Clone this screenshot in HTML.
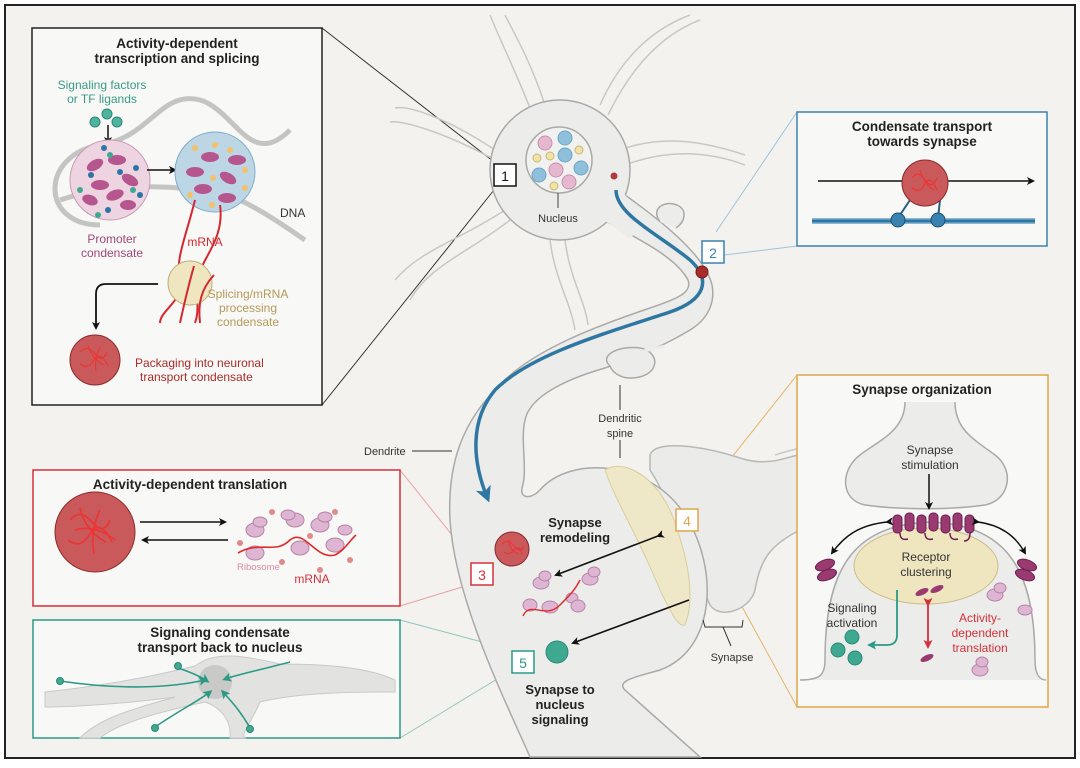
<!DOCTYPE html>
<html><head><meta charset="utf-8"><style>
html,body{margin:0;padding:0;background:#fff}
svg{display:block}
text{font-family:"Liberation Sans",sans-serif}
</style></head><body>
<svg width="1080" height="768" viewBox="0 0 1080 768" xmlns="http://www.w3.org/2000/svg">
<defs>
<marker id="ak" markerWidth="8" markerHeight="8" refX="6" refY="4" orient="auto" markerUnits="userSpaceOnUse"><path d="M0,0 L8,4 L0,8 L2,4 Z" fill="#111"/></marker>
<marker id="ab" markerWidth="16" markerHeight="16" refX="10" refY="8" orient="auto" markerUnits="userSpaceOnUse"><path d="M0,0 L16,8 L0,16 L4,8 Z" fill="#2f77a3"/></marker>
<marker id="ar" markerWidth="9" markerHeight="9" refX="6" refY="4.5" orient="auto" markerUnits="userSpaceOnUse"><path d="M0,0 L9,4.5 L0,9 L2,4.5 Z" fill="#d6303a"/></marker>
<marker id="at" markerWidth="9" markerHeight="9" refX="6" refY="4.5" orient="auto" markerUnits="userSpaceOnUse"><path d="M0,0 L9,4.5 L0,9 L2,4.5 Z" fill="#2a9a85"/></marker>
</defs>
<rect x="0" y="0" width="1080" height="768" fill="#fff"/>
<rect x="5" y="5" width="1070" height="753" fill="#f3f2ef" stroke="#222" stroke-width="2"/>

<!-- callout lines -->
<line x1="322" y1="28" x2="498" y2="165" stroke="#333" stroke-width="1"/>
<line x1="322" y1="405" x2="498" y2="185" stroke="#333" stroke-width="1"/>
<line x1="716" y1="232" x2="797" y2="112" stroke="#9cc3dc" stroke-width="1"/>
<line x1="716" y1="256" x2="797" y2="246" stroke="#9cc3dc" stroke-width="1"/>
<line x1="400" y1="470" x2="472" y2="560" stroke="#eaa0a0" stroke-width="1"/>
<line x1="400" y1="606" x2="472" y2="584" stroke="#eaa0a0" stroke-width="1"/>
<line x1="400" y1="620" x2="512" y2="650" stroke="#8fc7bd" stroke-width="1"/>
<line x1="400" y1="738" x2="512" y2="670" stroke="#8fc7bd" stroke-width="1"/>
<line x1="690" y1="510" x2="797" y2="375" stroke="#e6b46a" stroke-width="1"/>
<line x1="700" y1="530" x2="797" y2="707" stroke="#e6b46a" stroke-width="1"/>

<!-- neuron branches -->
<g fill="none" stroke="#c8c8c6" stroke-width="1.5">
<path d="M530,108 C515,70 500,40 490,15"/><path d="M545,105 C530,60 515,35 505,15"/>
<path d="M600,105 C620,60 650,30 690,15"/><path d="M608,115 C630,70 660,35 700,20"/>
<path d="M495,150 C450,120 410,105 395,108"/><path d="M495,160 C440,130 400,120 390,122"/>
<path d="M620,150 C660,135 700,140 745,155"/><path d="M625,165 C665,150 705,150 745,165"/>
<path d="M505,210 C460,240 420,250 395,280"/><path d="M510,220 C465,255 430,265 410,300"/>
<path d="M550,240 C555,280 570,300 575,330"/><path d="M565,240 C570,280 585,300 588,325"/>
<path d="M775,455 C820,440 850,445 870,430"/><path d="M770,470 C820,465 850,470 875,460"/>
</g>

<!-- presynaptic bouton -->
<path d="M650,455 C655,440 700,445 740,458 C770,468 790,455 800,455 L800,530 C770,545 760,560 755,590 C750,610 720,620 710,605 C690,560 670,500 650,470 Z" fill="#ebebea" stroke="#b8b8b6" stroke-width="1.5"/>

<!-- dendrite trunk -->
<path d="M600,218 C630,235 675,255 688,280 C692,292 680,298 650,308 C600,325 530,350 497,388 C465,420 447,460 450,520 C455,600 505,700 530,757 L700,757 L625,690 C615,680 640,676 660,670 C715,650 720,570 685,515 C650,460 570,455 540,490 C530,500 520,498 522,488 C528,470 520,440 525,420 C530,395 570,378 605,368 C640,356 665,345 690,330 C710,318 715,300 712,285 C705,255 660,220 625,195 Z" fill="#ececeb" stroke="#a9a9a7" stroke-width="1.5"/>
<!-- spine bumps -->
<path d="M660,222 C650,208 665,200 677,205 C688,210 685,222 676,228" fill="#ececeb" stroke="#a9a9a7" stroke-width="1.5"/>
<path d="M610,366 C598,355 620,345 640,348 C662,352 660,378 630,378 C620,378 612,372 610,366 Z" fill="#ececeb" stroke="#a9a9a7" stroke-width="1.5"/>
<path d="M612,364 C625,352 655,350 664,346" fill="none" stroke="#ececeb" stroke-width="3"/>
<!-- soma -->
<circle cx="560" cy="170" r="70" fill="#ececeb" stroke="#a9a9a7" stroke-width="1.5"/>
<path d="M595,214 L630,238 L650,220 L620,190 Z" fill="#ececeb"/>
<circle cx="559" cy="160" r="33" fill="#f1f1f0" stroke="#a9a9a7" stroke-width="1.5"/>
<circle cx="545" cy="143" r="7" fill="#e6b8d0" stroke="#c88fae"/><circle cx="565" cy="138" r="7" fill="#8fc0db" stroke="#6ea5c6"/>
<circle cx="537" cy="158" r="4" fill="#f0e2a8" stroke="#c9b872"/><circle cx="550" cy="156" r="4" fill="#f0e2a8" stroke="#c9b872"/>
<circle cx="565" cy="155" r="7" fill="#8fc0db" stroke="#6ea5c6"/><circle cx="579" cy="150" r="4" fill="#f0e2a8" stroke="#c9b872"/>
<circle cx="539" cy="175" r="7" fill="#8fc0db" stroke="#6ea5c6"/><circle cx="556" cy="170" r="7" fill="#e6b8d0" stroke="#c88fae"/>
<circle cx="581" cy="168" r="7" fill="#8fc0db" stroke="#6ea5c6"/><circle cx="569" cy="182" r="7" fill="#e6b8d0" stroke="#c88fae"/>
<circle cx="554" cy="186" r="4" fill="#f0e2a8" stroke="#c9b872"/>
<line x1="558" y1="193" x2="558" y2="208" stroke="#444"/>
<text x="558" y="222" font-size="11" text-anchor="middle" fill="#333">Nucleus</text>
<circle cx="614" cy="176" r="3.5" fill="#b03a3a"/>

<!-- spine head synapse area -->
<path d="M605,470 C620,460 650,470 670,510 C690,560 695,600 685,625 C678,628 670,610 660,590 C640,540 615,500 605,470 Z" fill="#efe8c8" stroke="#d8cd9a"/>

<!-- blue transport arrow -->
<path d="M616,190 C616,215 660,235 690,260 C712,280 705,300 670,312 C600,335 530,355 495,390 C470,420 472,460 487,497" fill="none" stroke="#2f77a3" stroke-width="3.5" marker-end="url(#ab)"/>
<circle cx="702" cy="272" r="6" fill="#a82c2c" stroke="#7a1a1a"/>

<!-- labels on neuron -->
<line x1="620" y1="385" x2="620" y2="410" stroke="#333"/><line x1="620" y1="440" x2="620" y2="458" stroke="#333"/>
<text x="620" y="422" font-size="11" text-anchor="middle" fill="#333">Dendritic</text>
<text x="620" y="437" font-size="11" text-anchor="middle" fill="#333">spine</text>
<text x="364" y="455" font-size="11" fill="#333">Dendrite</text>
<line x1="412" y1="451" x2="452" y2="451" stroke="#333"/>
<text x="575" y="527" font-size="13" font-weight="bold" text-anchor="middle" fill="#222">Synapse</text>
<text x="575" y="542" font-size="13" font-weight="bold" text-anchor="middle" fill="#222">remodeling</text>
<text x="560" y="694" font-size="13" font-weight="bold" text-anchor="middle" fill="#222">Synapse to</text>
<text x="560" y="709" font-size="13" font-weight="bold" text-anchor="middle" fill="#222">nucleus</text>
<text x="560" y="724" font-size="13" font-weight="bold" text-anchor="middle" fill="#222">signaling</text>
<path d="M703,620 L705,627 L742,627 L743,620 M723,627 L731,646" fill="none" stroke="#333"/>
<text x="732" y="661" font-size="11" text-anchor="middle" fill="#333">Synapse</text>
<!-- remodeling contents -->
<circle cx="512" cy="549" r="17" fill="#c9595a" stroke="#8a2a2a"/>
<path d="M502,544 q6,-6 12,2 t10,0 M504,552 q5,4 10,-2 t8,4 M508,540 q2,10 10,14" fill="none" stroke="#e33" stroke-width="1"/>
<line x1="658" y1="536" x2="556" y2="575" stroke="#111" stroke-width="1.6" marker-end="url(#ak)" marker-start="url(#ak)"/>
<line x1="689" y1="600" x2="573" y2="643" stroke="#111" stroke-width="1.6" marker-end="url(#ak)"/>
<g fill="#deb6d3" stroke="#b784a6"><ellipse cx="541" cy="583" rx="8" ry="6"/><ellipse cx="545" cy="576" rx="6" ry="5"/><ellipse cx="590" cy="579" rx="8" ry="6"/><ellipse cx="594" cy="572" rx="6" ry="5"/><ellipse cx="530" cy="605" rx="7" ry="6"/><ellipse cx="550" cy="607" rx="8" ry="6"/><ellipse cx="572" cy="598" rx="6" ry="5"/><ellipse cx="578" cy="606" rx="7" ry="6"/></g>
<path d="M523,616 C530,600 545,620 560,605 C570,595 575,590 580,580" fill="none" stroke="#e02b2b" stroke-width="1.4"/>
<circle cx="557" cy="652" r="11" fill="#3fa891" stroke="#2a8a76"/>

<!-- number tags -->
<rect x="494" y="164" width="22" height="22" fill="#fff" stroke="#111" stroke-width="1.5"/><text x="505" y="181" font-size="14" text-anchor="middle" fill="#111">1</text>
<rect x="702" y="241" width="22" height="22" fill="#fff" stroke="#3a82b0" stroke-width="1.5"/><text x="713" y="258" font-size="14" text-anchor="middle" fill="#3a82b0">2</text>
<rect x="471" y="563" width="22" height="22" fill="#fff" stroke="#d6303a" stroke-width="1.5"/><text x="482" y="580" font-size="14" text-anchor="middle" fill="#d6303a">3</text>
<rect x="676" y="509" width="22" height="22" fill="#fff" stroke="#e0a64b" stroke-width="1.5"/><text x="687" y="526" font-size="14" text-anchor="middle" fill="#e0a64b">4</text>
<rect x="512" y="651" width="22" height="22" fill="#fff" stroke="#2a9a85" stroke-width="1.5"/><text x="523" y="668" font-size="14" text-anchor="middle" fill="#2a9a85">5</text>

<!-- BOX 1 -->
<rect x="32" y="28" width="290" height="377" fill="#f8f8f6" stroke="#222" stroke-width="1.5"/>
<text x="177" y="48" font-size="13.5" font-weight="bold" text-anchor="middle" fill="#222">Activity-dependent</text>
<text x="177" y="63" font-size="13.5" font-weight="bold" text-anchor="middle" fill="#222">transcription and splicing</text>
<text x="102" y="89" font-size="12" text-anchor="middle" fill="#3a9a87">Signaling factors</text>
<text x="102" y="103" font-size="12" text-anchor="middle" fill="#3a9a87">or TF ligands</text>
<g fill="#4fb39f" stroke="#2a8a76"><circle cx="95" cy="122" r="5"/><circle cx="107" cy="114" r="5"/><circle cx="117" cy="122" r="5"/></g>
<line x1="108" y1="125" x2="108" y2="143" stroke="#111" stroke-width="1.5" marker-end="url(#ak)"/>
<path d="M100,225 C40,225 40,155 100,145 C150,138 160,90 200,100 C235,110 250,170 290,130 M60,200 C120,180 200,185 240,200 C270,215 290,230 305,240" fill="none" stroke="#c4c4c2" stroke-width="5"/>
<text x="280" y="217" font-size="12" fill="#333">DNA</text>
<circle cx="110" cy="180" r="40" fill="#eed3e0" stroke="#c89bb6"/>
<g fill="#b5568f"><ellipse cx="95" cy="165" rx="9" ry="5" transform="rotate(-30 95 165)"/><ellipse cx="117" cy="160" rx="9" ry="5"/><ellipse cx="130" cy="180" rx="9" ry="5" transform="rotate(30 130 180)"/><ellipse cx="100" cy="185" rx="9" ry="5"/><ellipse cx="115" cy="195" rx="9" ry="5" transform="rotate(-20 115 195)"/><ellipse cx="90" cy="200" rx="8" ry="5" transform="rotate(20 90 200)"/><ellipse cx="128" cy="205" rx="8" ry="5"/></g>
<g fill="#2b74a5"><circle cx="91" cy="175" r="3"/><circle cx="120" cy="172" r="3"/><circle cx="136" cy="168" r="3"/><circle cx="108" cy="210" r="3"/><circle cx="140" cy="195" r="3"/><circle cx="104" cy="148" r="3"/></g>
<g fill="#3fa891"><circle cx="110" cy="155" r="3"/><circle cx="80" cy="190" r="3"/><circle cx="133" cy="190" r="3"/><circle cx="98" cy="215" r="3"/></g>
<line x1="147" y1="170" x2="175" y2="170" stroke="#111" stroke-width="1.5" marker-end="url(#ak)"/>
<circle cx="215" cy="172" r="40" fill="#bcd6e6" stroke="#80acc8"/>
<g fill="#b5568f"><ellipse cx="210" cy="157" rx="9" ry="5"/><ellipse cx="237" cy="160" rx="9" ry="5"/><ellipse cx="195" cy="172" rx="9" ry="5"/><ellipse cx="228" cy="178" rx="9" ry="5" transform="rotate(30 228 178)"/><ellipse cx="203" cy="189" rx="9" ry="5"/><ellipse cx="227" cy="198" rx="9" ry="5"/></g>
<g fill="#f5c06a"><circle cx="195" cy="148" r="3"/><circle cx="215" cy="145" r="3"/><circle cx="230" cy="150" r="3"/><circle cx="245" cy="170" r="3"/><circle cx="213" cy="178" r="3"/><circle cx="190" cy="195" r="3"/><circle cx="212" cy="205" r="3"/><circle cx="245" cy="188" r="3"/></g>
<path d="M195,200 C185,240 175,260 180,280 C185,300 160,310 160,323 M220,205 C225,240 200,260 200,275 C195,300 200,310 195,323" fill="none" stroke="#d6262e" stroke-width="2"/>
<text x="205" y="246" font-size="12" text-anchor="middle" fill="#d6262e">mRNA</text>
<text x="112" y="243" font-size="12" text-anchor="middle" fill="#a0487a">Promoter</text>
<text x="112" y="257" font-size="12" text-anchor="middle" fill="#a0487a">condensate</text>
<circle cx="190" cy="283" r="22" fill="#efe6c0" stroke="#bfb07a"/>
<path d="M194,266 C190,280 185,300 180,323 M214,275 C200,290 198,305 200,323" fill="none" stroke="#d6262e" stroke-width="2"/>
<text x="248" y="298" font-size="12" text-anchor="middle" fill="#b59a5a">Splicing/mRNA</text>
<text x="248" y="312" font-size="12" text-anchor="middle" fill="#b59a5a">processing</text>
<text x="248" y="326" font-size="12" text-anchor="middle" fill="#b59a5a">condensate</text>
<path d="M158,284 L106,284 Q96,284 96,294 L96,328" fill="none" stroke="#111" stroke-width="1.8" marker-end="url(#ak)"/>
<circle cx="95" cy="360" r="25" fill="#c9595a" stroke="#8a2a2a"/>
<path d="M80,352 q8,-8 15,2 t12,-2 M80,364 q8,6 14,-4 t14,6 M88,345 q4,14 16,20 M100,347 q-6,12 -4,24" fill="none" stroke="#e33" stroke-width="1.1"/>
<text x="135" y="367" font-size="12" fill="#a82c2c">Packaging into neuronal</text>
<text x="140" y="381" font-size="12" fill="#a82c2c">transport condensate</text>

<!-- BOX 2 -->
<rect x="797" y="112" width="250" height="134" fill="#f8f8f6" stroke="#3a82b0" stroke-width="1.5"/>
<text x="922" y="131" font-size="13.5" font-weight="bold" text-anchor="middle" fill="#222">Condensate transport</text>
<text x="922" y="146" font-size="13.5" font-weight="bold" text-anchor="middle" fill="#222">towards synapse</text>
<line x1="818" y1="181" x2="1033" y2="181" stroke="#111" stroke-width="1.6" marker-end="url(#ak)"/>
<line x1="812" y1="221" x2="1035" y2="221" stroke="#8cb8d4" stroke-width="6"/>
<line x1="812" y1="221" x2="1035" y2="221" stroke="#2f77a3" stroke-width="3"/>
<path d="M910,200 L898,218 M940,200 L938,218" stroke="#2b5e80" stroke-width="2"/>
<circle cx="898" cy="220" r="7" fill="#3a82b0" stroke="#1f4f70"/><circle cx="938" cy="220" r="7" fill="#3a82b0" stroke="#1f4f70"/>
<circle cx="925" cy="183" r="23" fill="#c9595a" stroke="#8a2a2a"/>
<path d="M912,178 q6,-8 13,2 t12,-2 M912,188 q8,6 13,-4 t12,6 M920,170 q4,14 14,20" fill="none" stroke="#e33" stroke-width="1.1"/>

<!-- BOX 3 -->
<rect x="33" y="470" width="367" height="136" fill="#f8f8f6" stroke="#d6303a" stroke-width="1.5"/>
<text x="190" y="489" font-size="13.5" font-weight="bold" text-anchor="middle" fill="#222">Activity-dependent translation</text>
<circle cx="95" cy="532" r="40" fill="#c9595a" stroke="#8a2a2a"/>
<path d="M70,520 q10,-12 22,2 t18,-2 M68,540 q12,10 22,-6 t22,8 M80,508 q6,24 26,34 M100,510 q-10,20 -6,44 M75,530 q20,-6 40,10" fill="none" stroke="#e33" stroke-width="1.6"/>
<line x1="140" y1="522" x2="225" y2="522" stroke="#111" stroke-width="1.6" marker-end="url(#ak)"/>
<line x1="228" y1="540" x2="143" y2="540" stroke="#111" stroke-width="1.6" marker-end="url(#ak)"/>
<g fill="#deb6d3" stroke="#b784a6"><ellipse cx="255" cy="530" rx="9" ry="7"/><ellipse cx="260" cy="522" rx="7" ry="5"/><ellipse cx="295" cy="520" rx="9" ry="7"/><ellipse cx="288" cy="515" rx="7" ry="5"/><ellipse cx="320" cy="525" rx="9" ry="7"/><ellipse cx="325" cy="517" rx="7" ry="5"/><ellipse cx="255" cy="553" rx="9" ry="7"/><ellipse cx="300" cy="548" rx="9" ry="7"/><ellipse cx="335" cy="545" rx="9" ry="7"/><ellipse cx="345" cy="530" rx="7" ry="5"/></g>
<g fill="#e08a8a"><circle cx="272" cy="512" r="3"/><circle cx="310" cy="536" r="3"/><circle cx="240" cy="543" r="3"/><circle cx="350" cy="560" r="3"/><circle cx="320" cy="570" r="3"/><circle cx="282" cy="562" r="3"/><circle cx="335" cy="512" r="3"/></g>
<path d="M238,553 C260,540 275,555 290,540 C305,528 315,560 335,555 C345,550 350,540 356,535" fill="none" stroke="#e02b2b" stroke-width="1.6"/>
<text x="237" y="570" font-size="9.5" fill="#d98aa8">Ribosome</text>
<text x="312" y="583" font-size="12" text-anchor="middle" fill="#d6303a">mRNA</text>

<!-- BOX 5 -->
<rect x="33" y="620" width="367" height="118" fill="#f8f8f6" stroke="#2a9a85" stroke-width="1.5"/>
<path d="M45,692 C120,684 170,672 195,666 C215,650 245,656 280,664 C330,664 370,668 395,680 L395,692 C360,692 300,692 260,702 C250,725 240,735 245,738 L230,738 C232,720 220,707 205,702 C160,712 120,722 100,738 L80,738 C100,717 140,707 175,697 C140,702 80,707 45,707 Z" fill="#e2e2e1" stroke="#c9c9c7"/>
<circle cx="215" cy="682" r="17" fill="#c9c9c7"/>
<text x="220" y="637" font-size="13.5" font-weight="bold" text-anchor="middle" fill="#222">Signaling condensate</text>
<text x="220" y="652" font-size="13.5" font-weight="bold" text-anchor="middle" fill="#222">transport back to nucleus</text>
<g fill="none" stroke="#2a9a85" stroke-width="1.6"><path d="M60,681 C120,690 170,688 205,680" marker-end="url(#at)"/><path d="M178,668 C190,672 200,676 207,681" marker-end="url(#at)"/><path d="M155,727 C180,710 200,700 210,692" marker-end="url(#at)"/><path d="M250,728 C240,710 230,700 223,692" marker-end="url(#at)"/><path d="M290,662 C260,670 240,674 225,679" marker-end="url(#at)"/></g>
<g fill="#3fa891" stroke="#2a8a76"><circle cx="60" cy="681" r="3.5"/><circle cx="178" cy="666" r="3.5"/><circle cx="155" cy="728" r="3.5"/><circle cx="250" cy="729" r="3.5"/></g>

<!-- BOX 4 -->
<rect x="797" y="375" width="251" height="332" fill="#f8f8f6" stroke="#e0a64b" stroke-width="1.5"/>
<text x="922" y="394" font-size="13.5" font-weight="bold" text-anchor="middle" fill="#222">Synapse organization</text>
<path d="M905,402 C905,430 880,440 860,455 C840,470 840,500 865,505 C900,510 950,510 985,505 C1010,500 1015,470 995,455 C975,440 955,430 955,402" fill="#ececeb" stroke="#a9a9a7" stroke-width="1.5"/>
<text x="930" y="454" font-size="12" text-anchor="middle" fill="#333">Synapse</text>
<text x="930" y="469" font-size="12" text-anchor="middle" fill="#333">stimulation</text>
<line x1="929" y1="474" x2="929" y2="508" stroke="#111" stroke-width="1.5" marker-end="url(#ak)"/>
<path d="M800,680 C820,680 825,675 825,660 C825,560 860,525 930,522 C1000,525 1035,560 1035,660 C1035,675 1040,680 1046,680" fill="#ececeb" stroke="#a9a9a7" stroke-width="1.5"/>
<ellipse cx="926" cy="566" rx="72" ry="38" fill="#efe6c0" stroke="#c9bc86"/>
<text x="926" y="561" font-size="12" text-anchor="middle" fill="#333">Receptor</text>
<text x="926" y="576" font-size="12" text-anchor="middle" fill="#333">clustering</text>
<g fill="#9a3a70" stroke="#6b2050"><rect x="893" y="515" width="9" height="18" rx="4"/><rect x="905" y="513" width="9" height="18" rx="4"/><rect x="917" y="515" width="9" height="18" rx="4"/><rect x="929" y="513" width="9" height="18" rx="4"/><rect x="941" y="515" width="9" height="18" rx="4"/><rect x="953" y="513" width="9" height="18" rx="4"/><rect x="965" y="515" width="9" height="18" rx="4"/></g>
<path d="M900,533 q0,8 8,6 M925,533 q0,8 8,6 M950,533 q0,8 8,6 M970,533 q0,8 -6,8" fill="none" stroke="#6b2050" stroke-width="1.5"/>
<g fill="#9a3a70" stroke="#6b2050"><ellipse cx="825" cy="565" rx="10" ry="5" transform="rotate(-20 825 565)"/><ellipse cx="827" cy="575" rx="10" ry="5" transform="rotate(-20 827 575)"/><ellipse cx="1027" cy="565" rx="10" ry="5" transform="rotate(20 1027 565)"/><ellipse cx="1025" cy="575" rx="10" ry="5" transform="rotate(20 1025 575)"/></g>
<path d="M887,522 C860,525 845,535 832,553" fill="none" stroke="#111" stroke-width="1.5" marker-end="url(#ak)" marker-start="url(#ak)"/>
<path d="M978,522 C1000,525 1015,535 1025,553" fill="none" stroke="#111" stroke-width="1.5" marker-end="url(#ak)" marker-start="url(#ak)"/>
<text x="852" y="612" font-size="12" text-anchor="middle" fill="#333">Signaling</text>
<text x="852" y="627" font-size="12" text-anchor="middle" fill="#333">activation</text>
<path d="M897,590 L897,635 Q897,645 887,645 L870,645" fill="none" stroke="#2a9a85" stroke-width="1.8" marker-end="url(#at)"/>
<g fill="#3fa891" stroke="#2a8a76"><circle cx="852" cy="637" r="7"/><circle cx="838" cy="650" r="7"/><circle cx="855" cy="658" r="7"/></g>
<g fill="#9a3a70"><ellipse cx="922" cy="592" rx="7" ry="3" transform="rotate(-25 922 592)"/><ellipse cx="937" cy="589" rx="7" ry="3" transform="rotate(-25 937 589)"/><ellipse cx="927" cy="658" rx="7" ry="3" transform="rotate(-25 927 658)"/></g>
<line x1="928" y1="604" x2="928" y2="646" stroke="#d6303a" stroke-width="1.8" marker-end="url(#ar)" marker-start="url(#ar)"/>
<text x="980" y="622" font-size="12" text-anchor="middle" fill="#d6303a">Activity-</text>
<text x="980" y="637" font-size="12" text-anchor="middle" fill="#d6303a">dependent</text>
<text x="980" y="652" font-size="12" text-anchor="middle" fill="#d6303a">translation</text>
<g fill="#deb6d3" stroke="#b784a6"><ellipse cx="995" cy="595" rx="8" ry="6"/><ellipse cx="1000" cy="588" rx="6" ry="5"/><ellipse cx="1025" cy="610" rx="7" ry="5"/><ellipse cx="980" cy="670" rx="8" ry="6"/><ellipse cx="982" cy="662" rx="6" ry="5"/></g>
</svg>
</body></html>
